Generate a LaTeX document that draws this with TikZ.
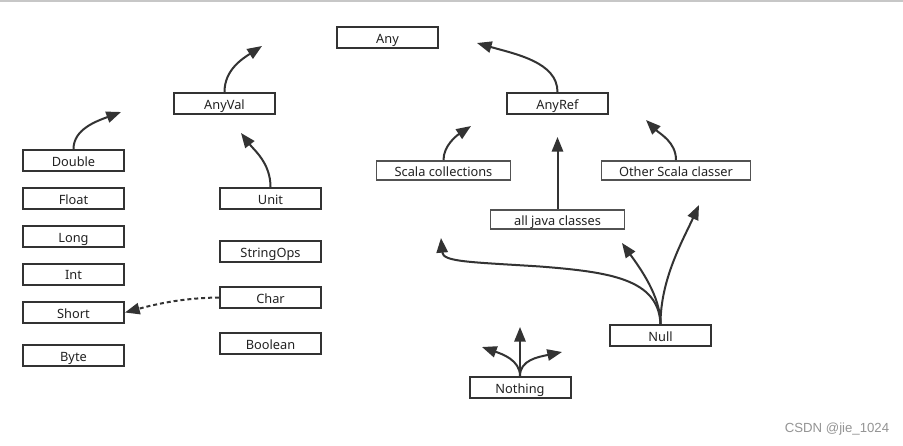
\documentclass[tikz,border=0pt]{standalone}
\usepackage{fontspec}
\setmainfont{Noto Sans}
\newfontfamily\wmfont{Liberation Sans}
\usetikzlibrary{arrows.meta}
\definecolor{ink}{HTML}{333333}
\definecolor{txt}{HTML}{222222}
\tikzset{
  box/.style={draw=ink, line width=1.5pt, inner sep=0pt, minimum width=75.75pt, minimum height=15.75pt, font=\fontsize{9.6}{11}\selectfont, text=txt, text height=9.3pt, text depth=1pt},
  lbox/.style={draw=ink!85, line width=1.2pt, inner sep=0pt, minimum height=14.5pt, font=\fontsize{9.6}{11}\selectfont, text=txt, text height=9.3pt, text depth=1pt},
  conn/.style={draw=ink, line width=1.5pt, -{Triangle[length=11pt,width=8.5pt]}},
}
\begin{document}
\begin{tikzpicture}[x=0.75pt,y=-0.75pt]
\useasboundingbox (0,0) rectangle (903,446);
\fill[white] (0,0) rectangle (903,446);
\draw[black!22, line width=1.5pt] (0,1) -- (903,1);

\node[box] (any) at (387.5,37.5) {Any};
\node[box] (anyval) at (224.5,103.5) {AnyVal};
\node[box] (anyref) at (557.5,103.5) {AnyRef};
\node[box] (double) at (73.5,160.5) {Double};
\node[box] (float) at (73.5,198.5) {Float};
\node[box] (long) at (73.5,236.5) {Long};
\node[box] (int) at (73.5,274) {Int};
\node[box] (short) at (73.5,312.5) {Short};
\node[box] (byte) at (73.5,355.5) {Byte};
\node[box] (unit) at (270.5,198.5) {Unit};
\node[box] (stringops) at (270.5,251.5) {StringOps};
\node[box] (char) at (270.5,297.5) {Char};
\node[box] (boolean) at (270.5,343.5) {Boolean};
\node[lbox, minimum width=134pt*0.75] (scoll) at (443.5,170.5) {Scala collections};
\node[lbox, minimum width=149pt*0.75] (other) at (676,170.5) {Other Scala classer};
\node[lbox, minimum width=134pt*0.75] (java) at (557.5,219.5) {all java classes};
\node[box] (null) at (660.5,335.5) {Null};
\node[box] (nothing) at (520,387.5) {Nothing};

\coordinate (tAnyVal) at (262,46);
\coordinate (tDouble) at (121,112);
\coordinate (tUnit) at (241,133);
\coordinate (tAnyRef) at (477,43);
\coordinate (tScoll) at (471,126);
\coordinate (tJava) at (557.5,137);
\coordinate (tOther) at (646,120);
\coordinate (tNullA) at (699,205);
\coordinate (tNullB) at (622,243);
\coordinate (tNullC) at (441,238);
\coordinate (tNothU) at (520,327);
\coordinate (tNothL) at (482,347);
\coordinate (tNothR) at (562,352);

\draw[conn] (anyval.north) .. controls +(0,-22) and (242,59) .. (tAnyVal);
\draw[conn] (double.north) .. controls +(0,-20) and (97,121) .. (tDouble);
\draw[conn] (unit.north) .. controls +(0,-24) and (254,150) .. (tUnit);
\draw[conn] (anyref.north) .. controls +(0,-30) and (515,54) .. (tAnyRef);
\draw[conn] (scoll.north) .. controls +(0,-14) and (456,136) .. (tScoll);
\draw[conn] (java.north) -- (tJava);
\draw[conn] (other.north) .. controls +(0,-18) and (660,134) .. (tOther);

\draw[conn] (null.north) .. controls +(0,-45) and (683,240) .. (tNullA);
\draw[conn] (null.north) .. controls +(0,-28) and (640,268) .. (tNullB);
\draw[conn] (null.north) .. controls +(-2,-45) and (610,272) .. (540,266.5) .. controls (470,262) and (443,262) .. (tNullC);

\draw[conn] (nothing.north) -- (tNothU);
\draw[conn] (nothing.north) .. controls +(0,-16) and (502,354) .. (tNothL);
\draw[conn] (nothing.north) .. controls +(0,-16) and (538,357) .. (tNothR);

\draw[conn, dash pattern=on 3pt off 2.2pt] (char.west) .. controls (185,298) and (160,303) .. (short.east);

\node[font=\wmfont\fontsize{9.9}{12}\selectfont, text=black!42, anchor=center] (wm) at (837,429) {CSDN @jie\_1024};
\end{tikzpicture}
\end{document}
